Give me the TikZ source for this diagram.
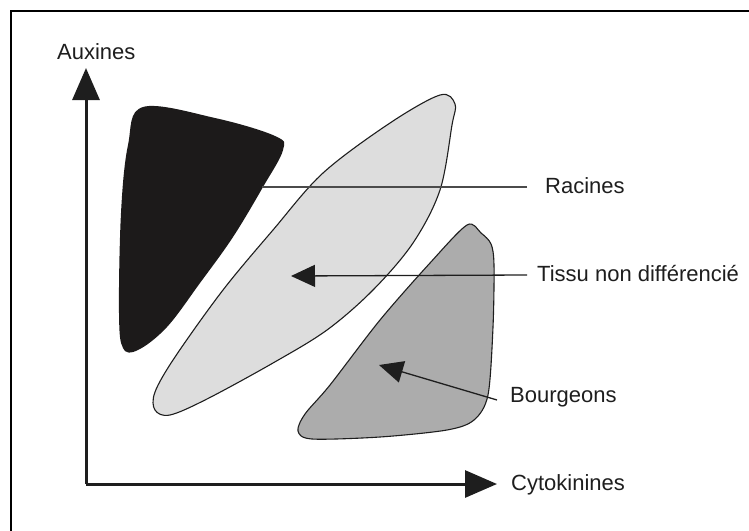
\documentclass[tikz,border=0pt]{standalone}
\usepackage{fontspec}
\setmainfont{Liberation Sans}
\usetikzlibrary{arrows.meta,positioning}
\definecolor{rootblack}{RGB}{28,26,26}
\definecolor{calluslight}{RGB}{221,221,221}
\definecolor{buddark}{RGB}{172,172,172}
\definecolor{inkdark}{RGB}{30,30,30}
\begin{document}
\begin{tikzpicture}[x=1pt,y=-1pt,
      lab/.style={anchor=west,inner sep=0pt,font=\fontsize{22}{26}\selectfont,text=inkdark},
      axe/.style={line width=3pt,draw=inkdark,-{Triangle[length=32pt,width=27pt]}},
      zone/.style={draw=inkdark,line width=1.1pt},
      a/.style={-{Triangle[length=24pt,width=22pt]},line width=1.3pt,draw=inkdark}]
    \useasboundingbox (0,0) rectangle (749,530);
    \clip (0,0) rectangle (749,530);
    % frame (only top and left sides fall inside the picture)
    \draw[line width=2.6pt] (11,560) -- (11,11) -- (780,11);
    % axes
    \coordinate (o) at (86,484);
    \coordinate (ytip) at (86,68);
    \coordinate (xtip) at (497,484);
    \draw[axe] (o) -- (ytip);
    \draw[axe] (o) -- (xtip);
    \node[lab] (aux) at (57,52) {Auxines};
    \node[lab] (cyto) at (511,485) {Cytokinines};
    % roots: black zone
    \fill[rootblack] plot[smooth cycle,tension=0.6] coordinates {
      (143,107) (215,118) (275,136) (283,150) (263,187) (233,237)
      (200,283) (167,327) (138,350) (123,348) (119,313) (121,213) (128,145)};
    % undifferentiated tissue: light zone
    \draw[zone,fill=calluslight] plot[smooth cycle,tension=0.55] coordinates {
      (440,95) (455,104) (452,125) (440,190) (413,243) (373,290)
      (327,330) (273,363) (207,399) (170,415) (155,410) (155,392)
      (175,357) (223,290) (273,230) (323,173) (390,123)};
    % buds: mid grey zone
    \draw[zone,fill=buddark] plot[smooth cycle,tension=0.5] coordinates {
      (467,225) (481,233) (491,244) (494,265) (493,327) (488,395)
      (474,420) (447,430) (380,437) (312,439) (298,431) (305,414)
      (330,385) (380,320) (430,263)};
    % labels and pointers
    \node[lab] (rac) at (545,186) {Racines};
    \node[lab] (tissu) at (537,274) {Tissu non différencié};
    \node[lab] (bourg) at (510,397) {Bourgeons};
    \coordinate (racpt) at (262,187);
    \coordinate (tispt) at (291,276);
    \coordinate (boupt) at (379,365);
    \draw[line width=1.3pt,draw=inkdark!80] (rac.west) ++(-18,1) -- (racpt);
    \draw[a] (tissu.west) ++(-10,1) -- (tispt);
    \draw[a] ([xshift=-13pt,yshift=-3pt]bourg.west) -- (boupt);
  \end{tikzpicture}
\end{document}
